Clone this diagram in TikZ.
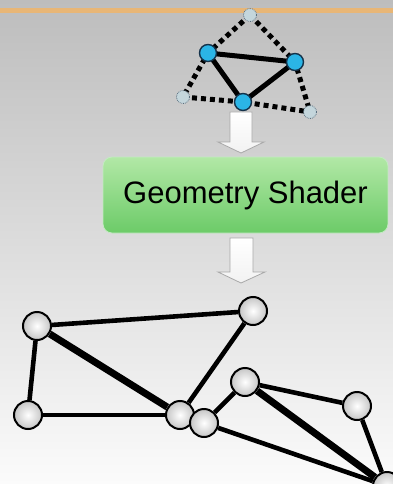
\documentclass[tikz,border=0pt]{standalone}
\usepackage{fontspec}
\setmainfont{Liberation Sans}
\definecolor{bgtop}{HTML}{BDBDBD}
\definecolor{bgbot}{HTML}{FBFBFB}
\definecolor{orangeline}{HTML}{E8B676}
\definecolor{cyanv}{HTML}{2BB5E6}
\definecolor{navyv}{HTML}{14324A}
\definecolor{ghostc}{HTML}{C4D6DC}
\definecolor{greentop}{HTML}{B2E8A6}
\definecolor{greenbot}{HTML}{6CCB68}
\definecolor{arrowline}{HTML}{A8A8A8}
\pgfdeclarelayer{bglayer}
\pgfdeclarelayer{edgelayer}
\pgfsetlayers{bglayer,edgelayer,main}
\begin{document}
\begin{tikzpicture}[x=1pt,y=-1pt,
  bluev/.style={circle, draw=navyv, line width=1.4pt, fill=cyanv, minimum size=17pt, inner sep=0pt},
  ghost/.style={circle, draw=navyv!70, densely dotted, line width=0.8pt, fill=ghostc, minimum size=13pt, inner sep=0pt},
  dots/.style={line width=5pt, dash pattern=on 5pt off 4pt},
  tri/.style={line width=5pt},
  gv/.style={circle, draw=black, line width=2pt, minimum size=28pt, inner sep=0pt, inner color=white, outer color=gray!45},
  ge/.style={line width=4.6pt},
  gthick/.style={line width=7pt},
  blockarrow/.style={draw=arrowline, line width=0.8pt, top color=white, bottom color=gray!10},
  shaderbox/.style={rounded corners=9pt, draw=white!60!greenbot, line width=0.8pt, top color=greentop, bottom color=greenbot, minimum width=285pt, minimum height=76pt, inner sep=0pt, font=\fontsize{31}{31}\selectfont}
]
\useasboundingbox (0,0) rectangle (393,484);
\begin{pgfonlayer}{bglayer}
\shade[top color=bgtop, bottom color=bgbot] (0,0) rectangle (393,484);
\fill[orangeline] (0,8) rectangle (393,13);
% block arrows
\shade[blockarrow] (230,112) -- (252,112) -- (252,142) -- (264,142) -- (241,153) -- (218,142) -- (230,142) -- cycle;
\shade[blockarrow] (230,238) -- (253,238) -- (253,272) -- (265,272) -- (241,283) -- (218,272) -- (230,272) -- cycle;
\end{pgfonlayer}

% top triangle
\node[ghost] (t) at (250,15) {};
\node[ghost] (gl) at (183,97) {};
\node[ghost] (gr) at (310,112) {};
\node[bluev] (l) at (208,53) {};
\node[bluev] (r) at (295,62) {};
\node[bluev] (b) at (243,102) {};
\begin{pgfonlayer}{edgelayer}
\draw[dots] (t.center) -- (l.center) -- (gl.center);
\draw[dots] (t.center) -- (r.center) -- (gr.center);
\draw[dots] (gl.center) -- (b.center) -- (gr.center);
\draw[tri] (l.center) -- (r.center) -- (b.center) -- cycle;
\end{pgfonlayer}

% shader box
\node[shaderbox] (gs) at (245.5,195) {Geometry Shader};

% bottom graph
\node[gv] (A) at (37,326) {};
\node[gv] (B) at (253,311) {};
\node[gv] (C) at (28,415) {};
\node[gv] (D) at (180,415) {};
\node[gv] (E) at (204,423) {};
\node[gv] (F) at (245,382) {};
\node[gv] (G) at (357,406) {};
\node[gv] (H) at (387,486) {};
\begin{pgfonlayer}{edgelayer}
\draw[ge] (A) -- (B);
\draw[ge] (A) -- (C);
\draw[gthick] (A) -- (D);
\draw[ge] (C) -- (D);
\draw[ge] (B) -- (D);
\draw[ge] (E) -- (F);
\draw[ge] (E) -- (H);
\draw[gthick] (F) -- (H);
\draw[ge] (F) -- (G);
\draw[ge] (G) -- (H);
\end{pgfonlayer}
\end{tikzpicture}
\end{document}
